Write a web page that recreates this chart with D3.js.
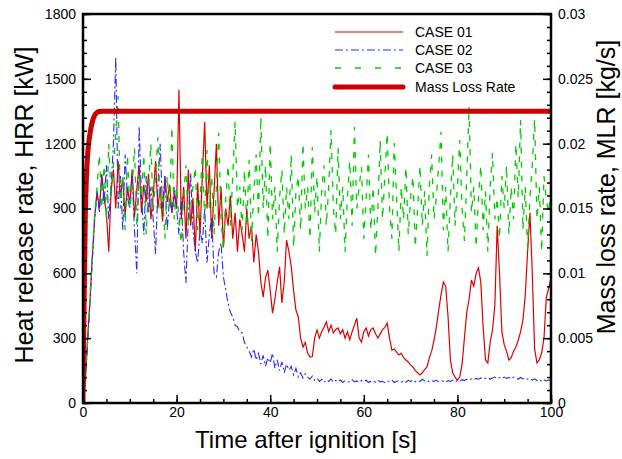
<!DOCTYPE html>
<html>
<head>
<meta charset="utf-8">
<script src="https://cdn.jsdelivr.net/npm/d3@7.9.0/dist/d3.min.js"></script>
<style>
  body { margin: 0; background: #fff; }
  svg { display: block; font-family: "Liberation Sans", Arial, sans-serif; }
</style>
</head>
<body>
<svg id="chart" width="622" height="459"></svg>
<script>
// sampling step of the HRR series [s]
const dt = 0.5;

// CASE 01 heat release rate [kW], one value per 0.5 s from 0 to 100 s
const case01 = [
  0, 120, 300, 480, 680, 860, 980, 900, 1060, 950,
  880, 700, 980, 1080, 900, 1120, 950, 1040, 870, 1000,
  920, 1080, 860, 990, 1100, 880, 1010, 930, 1060, 850,
  960, 1120, 900, 1000, 840, 1050, 930, 1010, 880, 970,
  900, 1450, 850, 1000, 760, 1080, 820, 950, 700, 1020,
  780, 1050, 1300, 900, 1100, 760, 980, 1200, 820, 1000,
  720, 900, 820, 960, 760, 880, 700, 850, 780, 700,
  900, 760, 820, 650, 780, 700, 560, 490, 580, 615,
  520, 416, 480, 560, 630, 463, 560, 754, 700, 630,
  520, 430, 398, 300, 259, 280, 230, 213, 215, 300,
  338, 300, 330, 350, 375, 330, 360, 324, 340, 347,
  320, 340, 300, 330, 292, 330, 360, 393, 300, 282,
  330, 347, 310, 340, 347, 320, 301, 320, 340, 350,
  370, 300, 245, 250, 235, 222, 230, 210, 199, 190,
  175, 167, 150, 140, 130, 140, 155, 167, 210, 240,
  290, 350, 430, 500, 560, 540, 400, 200, 139, 120,
  106, 120, 180, 300, 420, 480, 569, 540, 600, 625,
  560, 350, 200, 185, 280, 338, 450, 820, 600, 330,
  270, 240, 199, 210, 240, 259, 290, 330, 384, 500,
  700, 880, 600, 250, 185, 200, 231, 300, 490, 530,
  580
];

// CASE 02 heat release rate [kW]
const case02 = [
  0, 100, 280, 470, 660, 850, 980, 880, 1050, 920,
  1100, 850, 1000, 1200, 1600, 900, 1050, 800, 1150, 950,
  900, 1050, 800, 600, 1280, 950, 780, 1050, 880, 1000,
  850, 690, 1000, 1200, 900, 1050, 800, 950, 880, 1000,
  900, 780, 950, 700, 555, 850, 1064, 800, 700, 648,
  800, 740, 900, 650, 780, 861, 600, 583, 700, 740,
  583, 523, 460, 420, 398, 360, 352, 330, 324, 280,
  259, 240, 213, 250, 199, 230, 180, 220, 170, 210,
  185, 230, 160, 200, 150, 190, 140, 180, 153, 170,
  130, 160, 120, 140, 115, 135, 120, 110, 125, 105,
  115, 100, 110, 95, 108, 100, 112, 96, 105, 98,
  106, 95, 104, 100, 96, 108, 98, 102, 95, 104,
  98, 106, 95, 100, 103, 96, 105, 98, 100, 94,
  102, 98, 106, 95, 100, 104, 97, 102, 96, 105,
  100, 108, 98, 104, 100, 110, 102, 106, 98, 104,
  100, 106, 98, 104, 100, 96, 104, 100, 106, 98,
  104, 100, 108, 104, 110, 106, 112, 108, 114, 110,
  116, 110, 114, 118, 110, 116, 120, 112, 118, 114,
  120, 114, 118, 112, 120, 116, 110, 118, 112, 116,
  110, 114, 106, 112, 104, 110, 100, 108, 102, 106,
  104
];

// CASE 03 heat release rate [kW]
const case03 = [
  0, 110, 300, 500, 700, 880, 1000, 1150, 900, 1100,
  850, 1200, 950, 1100, 1250, 1420, 900, 1050, 800, 1150,
  900, 1000, 1180, 820, 1050, 950, 1150, 780, 1000, 1200,
  880, 1050, 1230, 900, 980, 760, 1050, 900, 1279, 850,
  1000, 850, 740, 950, 1100, 820, 900, 1000, 1092, 800,
  950, 1150, 850, 1171, 900, 1050, 780, 1000, 1250, 850,
  708, 950, 1100, 820, 1050, 1302, 900, 1000, 800, 1078,
  820, 1124, 750, 980, 1150, 860, 1325, 900, 1100, 760,
  1203, 850, 1000, 700, 950, 1080, 780, 1000, 850, 1150,
  720, 980, 1050, 800, 1203, 900, 1000, 760, 1185, 880,
  1050, 700, 980, 1100, 820, 1000, 1263, 900, 780, 1180,
  850, 1000, 700, 950, 1120, 820, 1277, 900, 1000, 1092,
  760, 950, 1150, 800, 1000, 680, 900, 1217, 850, 1050,
  1249, 900, 760, 1203, 950, 700, 1000, 850, 1092, 780,
  950, 1050, 720, 900, 1100, 820, 980, 680, 1000, 1150,
  850, 950, 1100, 1255, 800, 1000, 700, 950, 1150, 820,
  1000, 1217, 900, 750, 1050, 1371, 880, 1000, 720, 950,
  1100, 800, 980, 700, 1000, 1157, 850, 950, 760, 1050,
  900, 1100, 780, 1000, 850, 1200, 950, 1310, 800, 1000,
  720, 950, 1100, 1314, 850, 1000, 700, 1050, 940, 880,
  1000
];

// mass loss rate [kg/s]
const mlrTime = [0, 0.1, 0.25, 0.5, 0.75, 1, 1.5, 2, 2.5, 3, 3.5, 4, 100];
const mlrValue = [0, 0.004, 0.008, 0.0145, 0.0175, 0.0192, 0.0208, 0.0217, 0.0222, 0.0224, 0.02248, 0.0225, 0.0225];

const legendLabels = ['CASE 01', 'CASE 02', 'CASE 03', 'Mass Loss Rate'];

const width = 622, height = 459;
const margin = { top: 14, right: 71, bottom: 56, left: 83 };
const innerW = width - margin.left - margin.right;
const innerH = height - margin.top - margin.bottom;

const svg = d3.select('#chart');
const g = svg.append('g').attr('transform', `translate(${margin.left},${margin.top})`);

const x = d3.scaleLinear().domain([0, 100]).range([0, innerW]);
const y = d3.scaleLinear().domain([0, 1800]).range([innerH, 0]);
const y2 = d3.scaleLinear().domain([0, 0.03]).range([innerH, 0]);

g.append('clipPath').attr('id', 'clip')
  .append('rect').attr('width', innerW).attr('height', innerH);

const plot = g.append('g').attr('clip-path', 'url(#clip)');

const hrrLine = d3.line()
  .x((d, i) => x(i * dt))
  .y((d) => y(d));

const series = [
  { data: case01, color: '#dd0000', width: 1.2, dash: null },
  { data: case02, color: '#2a2aff', width: 1.1, dash: '8,3,2,3' },
  { data: case03, color: '#00cc00', width: 1.3, dash: '6,8' }
];

series.forEach((s) => {
  plot.append('path')
    .datum(s.data)
    .attr('d', hrrLine)
    .attr('fill', 'none')
    .attr('stroke', s.color)
    .attr('stroke-width', s.width)
    .attr('stroke-dasharray', s.dash);
});

const mlrLine = d3.line()
  .x((d, i) => x(mlrTime[i]))
  .y((d) => y2(d))
  .curve(d3.curveMonotoneX);

plot.append('path')
  .datum(mlrValue)
  .attr('d', mlrLine)
  .attr('fill', 'none')
  .attr('stroke', '#cc0000')
  .attr('stroke-width', 5)
  .attr('stroke-linecap', 'round');

// axes: minor ticks first, then major ones with labels
function styleAxis(sel) {
  sel.select('.domain').remove();
  sel.selectAll('line').attr('stroke', '#000').attr('stroke-width', 1.5);
  sel.selectAll('text').attr('font-size', 14).attr('fill', '#000')
    .attr('font-family', '"Liberation Sans", Arial, sans-serif');
}

g.append('g').attr('transform', `translate(0,${innerH})`)
  .call(d3.axisBottom(x).tickValues(d3.range(0, 101, 5)).tickSize(-4).tickFormat(''))
  .call(styleAxis);
g.append('g').attr('transform', `translate(0,${innerH})`)
  .call(d3.axisBottom(x).tickValues(d3.range(0, 101, 20)).tickSize(-8).tickPadding(4))
  .call(styleAxis);

g.append('g')
  .call(d3.axisLeft(y).tickValues(d3.range(0, 1801, 60)).tickSize(-4).tickFormat(''))
  .call(styleAxis);
g.append('g')
  .call(d3.axisLeft(y).tickValues(d3.range(0, 1801, 300)).tickSize(-8).tickPadding(7)
    .tickFormat(d3.format('d')))
  .call(styleAxis);

g.append('g').attr('transform', `translate(${innerW},0)`)
  .call(d3.axisRight(y2).tickValues(d3.range(0, 31, 1).map((v) => v / 1000)).tickSize(-4).tickFormat(''))
  .call(styleAxis);
g.append('g').attr('transform', `translate(${innerW},0)`)
  .call(d3.axisRight(y2).tickValues(d3.range(0, 7, 1).map((v) => v * 0.005)).tickSize(-8).tickPadding(7)
    .tickFormat(d3.format('~g')))
  .call(styleAxis);

// frame
g.append('rect')
  .attr('width', innerW).attr('height', innerH)
  .attr('fill', 'none').attr('stroke', '#000').attr('stroke-width', 2.5);

// axis titles
svg.append('text')
  .attr('x', 306).attr('y', 448)
  .attr('text-anchor', 'middle').attr('font-size', 24)
  .text('Time after ignition [s]');

svg.append('text')
  .attr('transform', 'translate(33,205) rotate(-90)')
  .attr('text-anchor', 'middle').attr('font-size', 25)
  .text('Heat release rate, HRR [kW]');

svg.append('text')
  .attr('transform', 'translate(615,187) rotate(-90)')
  .attr('text-anchor', 'middle').attr('font-size', 25)
  .text('Mass loss rate, MLR [kg/s]');

// legend
const legendStyles = [
  { color: '#dd0000', width: 1.2, dash: null },
  { color: '#2a2aff', width: 1.1, dash: '8,3,2,3' },
  { color: '#00cc00', width: 1.3, dash: '6,14' },
  { color: '#cc0000', width: 5, dash: null }
];
const legendY = [32, 50, 68, 87];

const legend = svg.append('g');
legendLabels.forEach((label, i) => {
  const st = legendStyles[i];
  legend.append('line')
    .attr('x1', 335).attr('x2', 403)
    .attr('y1', legendY[i]).attr('y2', legendY[i])
    .attr('stroke', st.color).attr('stroke-width', st.width)
    .attr('stroke-dasharray', st.dash)
    .attr('stroke-linecap', i === 3 ? 'round' : 'butt');
  legend.append('text')
    .attr('x', 415).attr('y', legendY[i]).attr('dy', '0.35em')
    .attr('font-size', 14)
    .text(label);
});
</script>
</body>
</html>
